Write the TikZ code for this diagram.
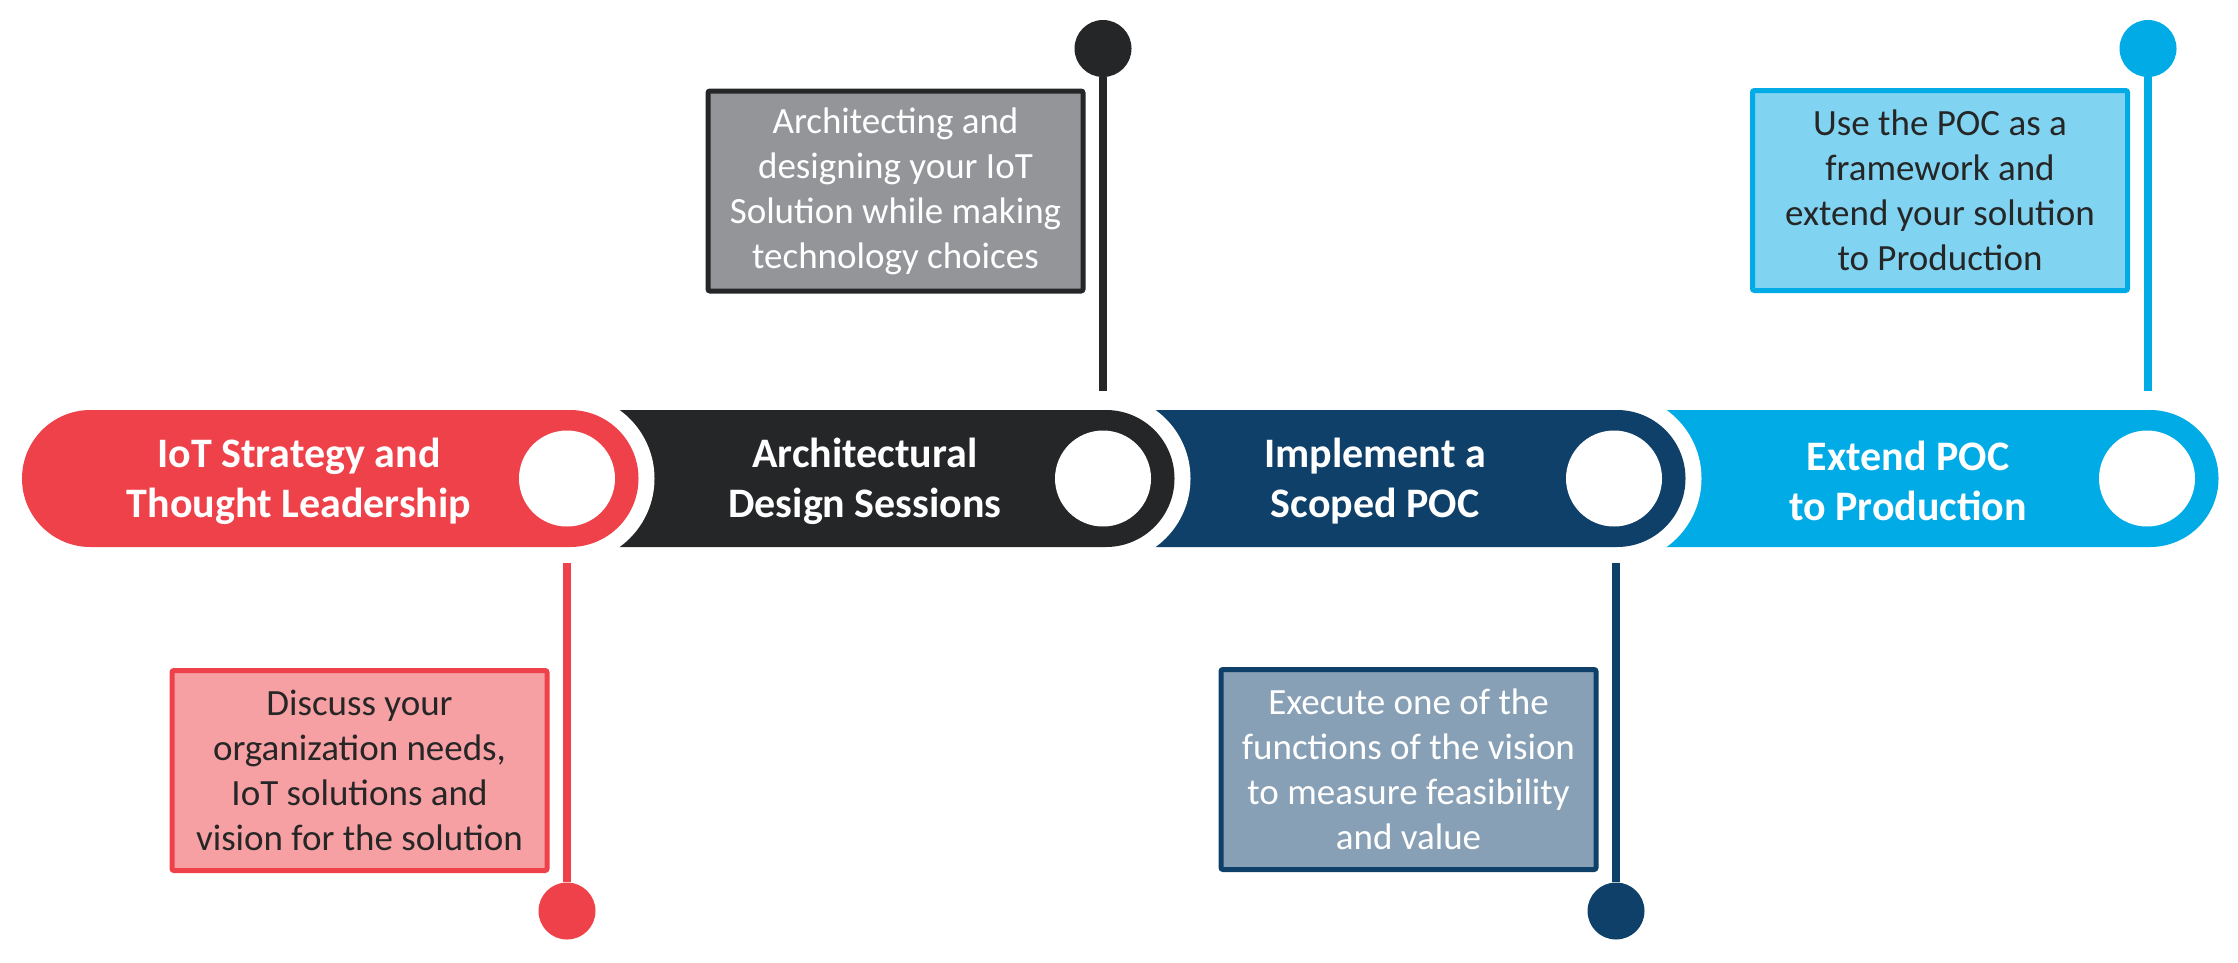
\documentclass[tikz,border=0pt]{standalone}
\usepackage{fontspec}
\setmainfont{Carlito}
\definecolor{cRed}{HTML}{EF4149}
\definecolor{cBlack}{HTML}{252628}
\definecolor{cNavy}{HTML}{0F4069}
\definecolor{cCyan}{HTML}{00ABE6}
\definecolor{fRed}{HTML}{F6A0A4}
\definecolor{fGray}{HTML}{939598}
\definecolor{fNavy}{HTML}{87A0B6}
\definecolor{fCyan}{HTML}{80D4F2}
\definecolor{txtDark}{HTML}{262626}
\begin{document}
\begin{tikzpicture}[x=1pt,y=-1pt,
  bartext/.style={text=white, font=\bfseries\fontsize{42}{50}\selectfont, align=center, inner sep=0pt},
  boxtext/.style={font=\fontsize{37}{45}\selectfont, align=center, line width=5pt, minimum width=375pt, minimum height=200pt, inner sep=0pt, rounded corners=2pt},
  hole/.style={circle, fill=white, minimum size=96pt, inner sep=0pt},
  dot/.style={circle, minimum size=57pt, inner sep=0pt},
  stem/.style={line width=8pt},
  halo/.style={fill=white},
]
\useasboundingbox (0,0) rectangle (2238,962);
% bars, drawn from right to left
\fill[cCyan] (1617,410) -- (2150,410) arc[start angle=90,end angle=-90,radius=68.5pt] -- (1617,547) -- cycle;
\fill[halo] (1617,478.5) circle[radius=84.5pt];
\fill[cNavy] (1106,410) -- (1617,410) arc[start angle=90,end angle=-90,radius=68.5pt] -- (1106,547) -- cycle;
\fill[halo] (1106,478.5) circle[radius=84.5pt];
\fill[cBlack] (570,410) -- (1106,410) arc[start angle=90,end angle=-90,radius=68.5pt] -- (570,547) -- cycle;
\fill[halo] (570,478.5) circle[radius=84.5pt];
\fill[cRed] (90.5,410) -- (570,410) arc[start angle=90,end angle=-90,radius=68.5pt] -- (90.5,547) arc[start angle=-90,end angle=-270,radius=68.5pt] -- cycle;
% white holes
\node[hole] (r1) at (567,478.5) {};
\node[hole] (r2) at (1103,478.5) {};
\node[hole] (r3) at (1614,478.5) {};
\node[hole] (r4) at (2147,478.5) {};
% bar texts
\node[bartext] (t1) at (299,481) {IoT Strategy and\\Thought Leadership};
\node[bartext] (t2) at (865,481) {Architectural\\Design Sessions};
\node[bartext] (t3) at (1375,481) {Implement a\\Scoped POC};
\node[bartext] (t4) at (1908,481) {Extend POC\\to Production};
% callout boxes
\node[boxtext, draw=cRed, fill=fRed, text=txtDark] (b1) at (359.5,770.5) {Discuss your\\organization needs,\\IoT solutions and\\vision for the solution};
\node[boxtext, draw=cBlack, fill=fGray, text=white] (b2) at (895.5,191) {Architecting and\\designing your IoT\\Solution while making\\technology choices};
\node[boxtext, draw=cNavy, fill=fNavy, text=white] (b3) at (1408.5,769.5) {Execute one of the\\functions of the vision\\to measure feasibility\\and value};
\node[boxtext, draw=cCyan, fill=fCyan, text=txtDark] (b4) at (1940,190.5) {Use the POC as a\\framework and\\extend your solution\\to Production};
% stems and dots
\node[dot, fill=cRed] (d1) at (567,911) {};
\node[dot, fill=cBlack] (d2) at (1103,48.5) {};
\node[dot, fill=cNavy] (d3) at (1616,911) {};
\node[dot, fill=cCyan] (d4) at (2148,48.5) {};
\coordinate (s1) at (567,563);
\coordinate (s2) at (1103,391);
\coordinate (s3) at (1616,563);
\coordinate (s4) at (2148,391);
\draw[stem, cRed] (s1) -- (d1);
\draw[stem, cBlack] (d2) -- (s2);
\draw[stem, cNavy] (s3) -- (d3);
\draw[stem, cCyan] (d4) -- (s4);
\end{tikzpicture}
\end{document}
